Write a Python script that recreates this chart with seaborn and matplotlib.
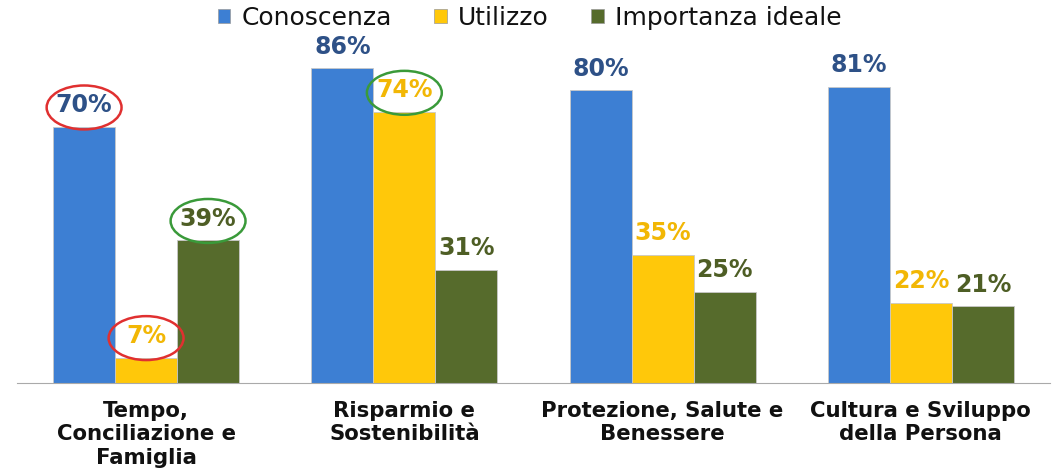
import numpy as np
import pandas as pd
import seaborn as sns
import matplotlib.pyplot as plt
from matplotlib.patches import Ellipse, Patch

categories = ['Tempo,\nConciliazione e\nFamiglia', 'Risparmio e\nSostenibilità',
              'Protezione, Salute e\nBenessere', 'Cultura e Sviluppo\ndella Persona']
series = ['Conoscenza', 'Utilizzo', 'Importanza ideale']
conoscenza = [70, 86, 80, 81]
utilizzo = [7, 74, 35, 22]
importanza = [39, 31, 25, 21]

# (series index, category index, circle colour)
circled = [(0, 0, '#E03030'), (1, 0, '#E03030'), (1, 1, '#3A9A3A'), (2, 0, '#3A9A3A')]

bar_colors = ['#3D7FD3', '#FFC80A', '#566B2C']
label_colors = ['#2E5187', '#F2B705', '#4E5E25']

df = pd.DataFrame({
    'cat': categories * 3,
    'serie': [s for s in series for _ in categories],
    'val': conoscenza + utilizzo + importanza,
})

sns.set_style('white')
plt.rcParams['font.family'] = ['DejaVu Sans']

fig = plt.figure(figsize=(10.59, 4.73), dpi=100)
ax = fig.add_axes([0.016, 0.19, 0.9755, 0.774])

sns.barplot(data=df, x='cat', y='val', hue='serie', palette=bar_colors, saturation=1,
            width=0.72, edgecolor='#c8c8c8', linewidth=0.6, ax=ax, legend=False)

ax.set_ylim(0, 100)
ax.set_xlim(-0.5, 3.5)

for i, cont in enumerate(ax.containers):
    for j, bar in enumerate(cont):
        h = bar.get_height()
        x = bar.get_x() + bar.get_width() / 2
        ax.annotate(f'{h:.0f}%', (x, h), xytext=(0, 7), textcoords='offset points',
                    ha='center', va='bottom', fontsize=17, fontweight='bold',
                    color=label_colors[i])

for i, j, c in circled:
    bar = ax.containers[i][j]
    x = bar.get_x() + bar.get_width() / 2
    y = bar.get_height() + 5.3
    ax.add_patch(Ellipse((x, y), 0.29, 12, fill=False, edgecolor=c, lw=1.8))

for s in ['left', 'right', 'top']:
    ax.spines[s].set_visible(False)
ax.spines['bottom'].set_color('#aaaaaa')
ax.set_yticks([])
ax.set_xlabel('')
ax.set_ylabel('')
ax.set_xticks(range(len(categories)))
ax.set_xticklabels(categories, fontsize=15.3, fontweight='bold', linespacing=1.2,
                   color='#111111')
ax.tick_params(axis='x', which='major', length=0, pad=13)
ax.set_xticks([-0.5, 0.5, 1.5, 2.5, 3.5], minor=True)
ax.tick_params(axis='x', which='minor', length=5, color='#aaaaaa', direction='out')

handles = [Patch(facecolor=c, edgecolor='#999999', lw=0.5) for c in bar_colors]
fig.legend(handles, series, loc='center', bbox_to_anchor=(0.5, 0.963), ncol=3,
           frameon=False, fontsize=18, handlelength=0.5, handleheight=0.5,
           handletextpad=0.45, columnspacing=1.7, labelcolor='#111111')

fig.savefig('out.png', dpi=100)
